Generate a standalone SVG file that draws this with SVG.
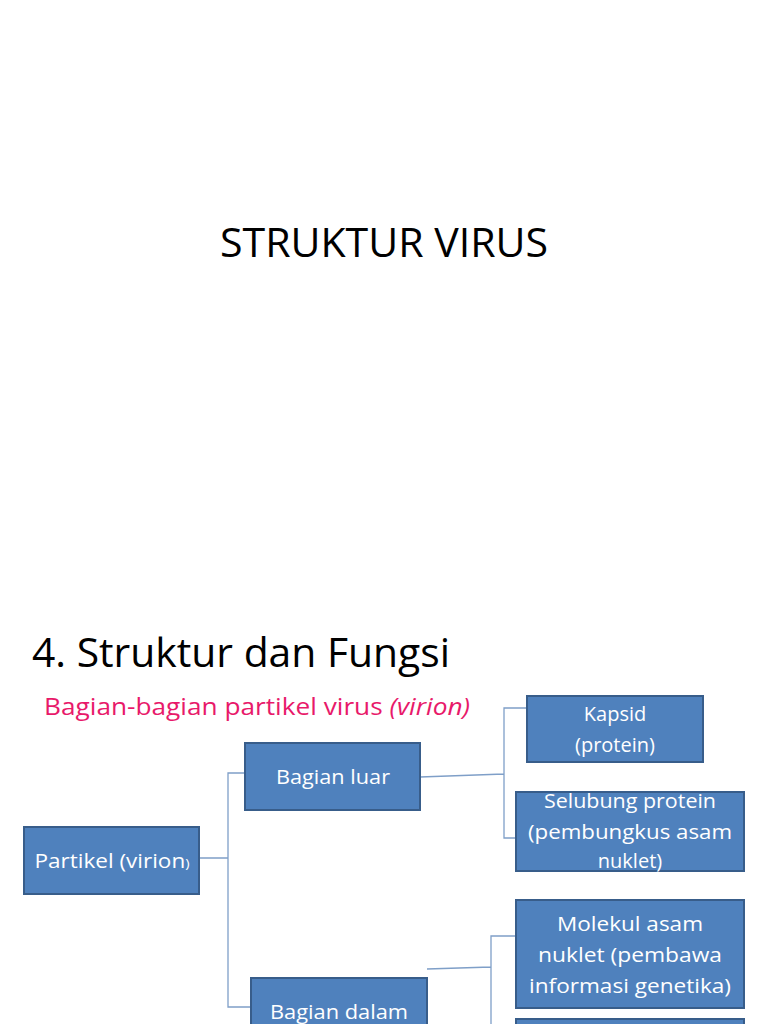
<svg xmlns="http://www.w3.org/2000/svg" width="768" height="1024" viewBox="0 0 768 1024">
<style>
.box{fill:#4F81BD;stroke:#385D8A;stroke-width:2}
.bt{fill:#fff;font-family:"Open Sans","Liberation Sans",sans-serif;font-size:20px;text-anchor:middle}
.ln{fill:none;stroke:#7F9FC8;stroke-width:1.3}
.h{font-family:"Open Sans","Liberation Sans",sans-serif;fill:#000}
</style>
<rect width="768" height="1024" fill="#fff"/>
<text class="h" x="220" y="257" font-size="40" textLength="328" lengthAdjust="spacingAndGlyphs">STRUKTUR VIRUS</text>
<text class="h" x="32" y="667" font-size="40" textLength="418" lengthAdjust="spacingAndGlyphs">4. Struktur dan Fungsi</text>
<text x="44" y="715" font-family="'Open Sans','Liberation Sans',sans-serif" font-size="23" fill="#E8196A" textLength="426" lengthAdjust="spacingAndGlyphs">Bagian-bagian partikel virus <tspan font-style="italic">(virion)</tspan></text>
<g id="connectors">
<path class="ln" d="M199 858 H228 M245 773 H228 V1007 H250"/>
<path class="ln" d="M420 777 L504 774 M527 708 H504 V838 H516"/>
<path class="ln" d="M427 969 L491 967 M516 936 H491 V1024"/>
</g>
<g id="partikel"><rect class="box" x="24" y="827" width="175" height="67"/><text class="bt" x="112" y="868" textLength="155" lengthAdjust="spacingAndGlyphs">Partikel (virion<tspan font-size="13">)</tspan></text></g>
<g id="luar"><rect class="box" x="245" y="743" width="175" height="67"/><text class="bt" x="333" y="784" textLength="114" lengthAdjust="spacingAndGlyphs">Bagian luar</text></g>
<g id="dalam"><rect class="box" x="251" y="978" width="176" height="60"/><text class="bt" x="339" y="1019" textLength="138" lengthAdjust="spacingAndGlyphs">Bagian dalam</text></g>
<g id="kapsid"><rect class="box" x="527" y="696" width="176" height="66"/><text class="bt" x="615" y="721">Kapsid</text><text class="bt" x="615" y="752">(protein)</text></g>
<g id="selubung"><rect class="box" x="516" y="792" width="228" height="79"/><text class="bt" x="630" y="808" textLength="172" lengthAdjust="spacingAndGlyphs">Selubung protein</text><text class="bt" x="630" y="839" textLength="204" lengthAdjust="spacingAndGlyphs">(pembungkus asam</text><text class="bt" x="630" y="868">nuklet)</text></g>
<g id="molekul"><rect class="box" x="516" y="900" width="228" height="108"/><text class="bt" x="630" y="931" textLength="146" lengthAdjust="spacingAndGlyphs">Molekul asam</text><text class="bt" x="630" y="962" textLength="184" lengthAdjust="spacingAndGlyphs">nuklet (pembawa</text><text class="bt" x="630" y="993" textLength="202" lengthAdjust="spacingAndGlyphs">informasi genetika)</text></g>
<g id="box5"><rect class="box" x="516" y="1019" width="228" height="20"/></g>
</svg>
